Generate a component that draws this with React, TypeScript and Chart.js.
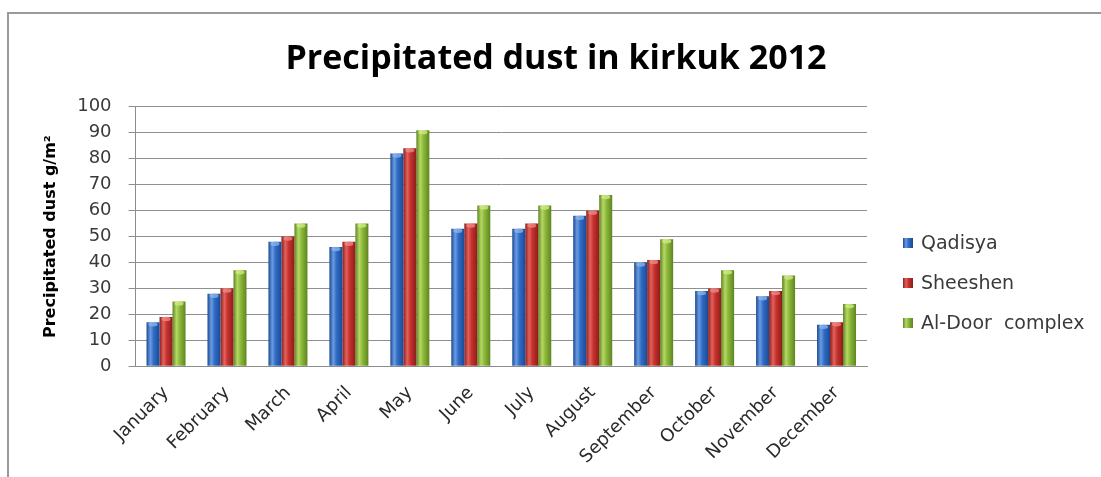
import React, { useEffect, useRef } from "react";
import { Chart, registerables, layouts } from "chart.js";

Chart.register(...registerables);

const months = [
  "January", "February", "March", "April", "May", "June",
  "July", "August", "September", "October", "November", "December",
];
const qadisya = [17, 28, 48, 46, 82, 53, 53, 58, 40, 29, 27, 16];
const sheeshen = [19, 30, 50, 48, 84, 55, 55, 60, 41, 30, 29, 17];
const alDoor = [25, 37, 55, 55, 91, 62, 62, 66, 49, 37, 35, 24];
const seriesNames = ["Qadisya", "Sheeshen", "Al-Door  complex"];
const yTicks = [0, 10, 20, 30, 40, 50, 60, 70, 80, 90, 100];

const CAT_PCT = 0.64;

type Shade = { base: string; light: string; dark: string; cap: string };

// base / light / dark shades for the cylinder-like bar shading
const palette: Shade[] = [
  { base: "#2f6cc6", light: "#6b9be0", dark: "#1b4a94", cap: "#8fb6ee" },
  { base: "#c7322e", light: "#e2625c", dark: "#8c1d1a", cap: "#f08c86" },
  { base: "#8cb83a", light: "#b5d865", dark: "#5e8520", cap: "#d2ec8a" },
];

function shade(ctx: CanvasRenderingContext2D, left: number, w: number, c: Shade) {
  const g = ctx.createLinearGradient(left, 0, left + w, 0);
  g.addColorStop(0, c.dark);
  g.addColorStop(0.3, c.light);
  g.addColorStop(0.55, c.base);
  g.addColorStop(1, c.dark);
  return g;
}

function barFill(c: Shade) {
  return (sc: any) => {
    const chart = sc.chart;
    const x = chart.scales && chart.scales.x;
    if (sc.type !== "data" || !x || !chart.chartArea) return c.base;
    const center = x.getPixelForValue(sc.dataIndex);
    const group = (x.width / months.length) * CAT_PCT;
    const bw = group / 3;
    const left = center - group / 2 + sc.datasetIndex * bw;
    return shade(chart.ctx, left, bw, c);
  };
}

// light rounded cap on the top of each bar
const barCaps = {
  id: "barCaps",
  afterDatasetsDraw(chart: any) {
    const ctx: CanvasRenderingContext2D = chart.ctx;
    ctx.save();
    chart.data.datasets.forEach((_ds: any, di: number) => {
      const meta = chart.getDatasetMeta(di);
      meta.data.forEach((bar: any) => {
        const { x, y, width } = bar.getProps(["x", "y", "width"], true);
        ctx.globalAlpha = 0.75;
        ctx.fillStyle = palette[di].cap;
        ctx.beginPath();
        ctx.ellipse(x, y + 2, width / 2 - 2, 2.2, 0, 0, Math.PI * 2);
        ctx.fill();
      });
    });
    ctx.restore();
  },
};

// legend as a layout box on the right of the plot
const sideLegend = {
  id: "sideLegend",
  beforeInit(chart: any) {
    const box: any = {
      position: "right",
      weight: 1000,
      fullSize: false,
      options: {},
      width: 0, height: 0, left: 0, top: 0, right: 0, bottom: 0,
      isHorizontal() { return false; },
      update(_maxW: number, maxH: number) {
        this.width = 234;
        this.height = maxH;
      },
      draw() {
        const ctx: CanvasRenderingContext2D = chart.ctx;
        const x0 = this.left + 36;
        const y0 = 229;
        const gap = 40;
        const s = 10;
        ctx.save();
        ctx.font = "19px 'DejaVu Sans'";
        ctx.textBaseline = "middle";
        ctx.textAlign = "left";
        seriesNames.forEach((name, i) => {
          const y = y0 + i * gap;
          ctx.fillStyle = shade(ctx, x0, s, palette[i]);
          ctx.fillRect(x0, y - s / 2, s, s);
          ctx.fillStyle = "#3a3a3a";
          ctx.fillText(name, x0 + 18, y + 1);
        });
        ctx.restore();
      },
    };
    layouts.addBox(chart, box);
  },
};

export default function App() {
  const ref = useRef<HTMLCanvasElement | null>(null);

  useEffect(() => {
    if (!ref.current) return;
    const data = [qadisya, sheeshen, alDoor];
    const chart = new Chart(ref.current, {
      type: "bar",
      data: {
        labels: months,
        datasets: data.map((vals, i) => ({
          label: seriesNames[i],
          data: vals,
          backgroundColor: barFill(palette[i]),
          borderWidth: 0,
          categoryPercentage: CAT_PCT,
          barPercentage: 1,
        })),
      },
      options: {
        animation: false,
        responsive: false,
        layout: { padding: { left: 2, right: 0, top: 10, bottom: 1 } },
        plugins: {
          legend: { display: false },
          tooltip: { enabled: false },
          title: {
            display: true,
            text: "Precipitated dust in kirkuk 2012",
            color: "#000",
            font: { family: "'Open Sans'", size: 34, weight: "bold" },
            padding: { top: 15, bottom: 27 },
          },
        },
        scales: {
          x: {
            grid: { display: false },
            border: { display: true, color: "#8c8c8c" },
            afterFit: (scale: any) => {
              // the slanted first label may hang left of the plot
              scale.paddingLeft = 0;
            },
            ticks: {
              color: "#2a2a2a",
              font: { family: "'DejaVu Sans'", size: 18 },
              maxRotation: 45,
              minRotation: 45,
              autoSkip: false,
              padding: 8,
            },
          },
          y: {
            min: 0,
            max: 100,
            afterBuildTicks: (axis: any) => {
              axis.ticks = yTicks.map((v) => ({ value: v }));
            },
            grid: { color: "#8f8f8f", lineWidth: 1, tickLength: 7 },
            border: { display: true, color: "#8c8c8c" },
            ticks: {
              color: "#3a3a3a",
              font: { family: "'DejaVu Sans'", size: 18 },
              padding: 17,
            },
            title: {
              display: true,
              text: "Precipitated dust g/m²",
              color: "#000",
              font: { family: "'DejaVu Sans'", size: 16, weight: "bold" },
              padding: { top: 30, bottom: 0 },
            },
          },
        },
      },
      plugins: [sideLegend, barCaps],
    });
    return () => chart.destroy();
  }, []);

  return (
    <div style={{ position: "fixed", left: 0, top: 0, width: 1101, height: 477, background: "#fff" }}>
      <div
        style={{
          position: "absolute",
          left: 7,
          top: 12,
          width: 1094,
          height: 465,
          borderLeft: "2px solid #9a9a9a",
          borderTop: "2px solid #9a9a9a",
          boxSizing: "border-box",
        }}
      />
      <canvas
        ref={ref}
        width={1092}
        height={463}
        style={{ position: "absolute", left: 9, top: 14, width: 1092, height: 463 }}
      />
    </div>
  );
}
